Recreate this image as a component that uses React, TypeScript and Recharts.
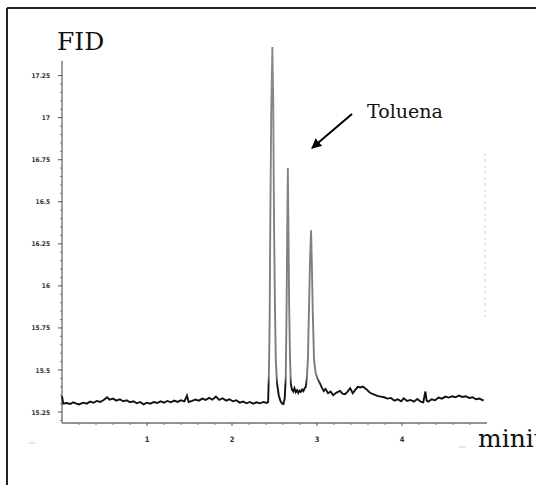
import { Line, LineChart, ReferenceLine, XAxis, YAxis } from "recharts";

// retention time (min)
const times = [
  0.0, 0.015, 0.05, 0.1, 0.13, 0.17, 0.2, 0.25, 0.29, 0.33, 0.37, 0.41, 0.45, 0.49, 0.53, 0.56, 0.6, 0.64,
  0.68, 0.72, 0.76, 0.8, 0.84, 0.88, 0.92, 0.96, 1.0, 1.04, 1.08, 1.12, 1.16, 1.2, 1.24, 1.28, 1.32, 1.36,
  1.4, 1.44, 1.47, 1.49, 1.53, 1.57, 1.61, 1.65, 1.69, 1.73, 1.77, 1.81, 1.85, 1.89, 1.93, 1.97, 2.01, 2.05,
  2.09, 2.13, 2.17, 2.21, 2.25, 2.29, 2.33, 2.37, 2.41,
  2.425, 2.435, 2.443, 2.45, 2.462, 2.475, 2.485, 2.495, 2.505, 2.515, 2.53, 2.55, 2.57, 2.59, 2.605, 2.62,
  2.632, 2.642, 2.65, 2.657, 2.664, 2.672, 2.682, 2.692, 2.705, 2.72, 2.735, 2.75, 2.765, 2.78, 2.795, 2.81,
  2.825, 2.84, 2.855, 2.868,
  2.88, 2.893, 2.905, 2.918, 2.93, 2.94, 2.95, 2.965, 2.985, 3.005, 3.035, 3.06, 3.08, 3.1, 3.13, 3.16, 3.19,
  3.23, 3.27, 3.3, 3.33, 3.36, 3.39, 3.42, 3.45, 3.48, 3.51, 3.54, 3.58, 3.62, 3.66, 3.71, 3.75, 3.79, 3.83,
  3.87, 3.91, 3.95, 3.99, 4.02, 4.06, 4.1, 4.14, 4.18, 4.22, 4.25, 4.275, 4.29, 4.31, 4.35, 4.39, 4.43, 4.47,
  4.51, 4.55, 4.59, 4.63, 4.67, 4.71, 4.75, 4.79, 4.83, 4.87, 4.91, 4.96,
];

// detector response
const fid = [
  15.345, 15.3, 15.304, 15.298, 15.308, 15.3, 15.295, 15.306, 15.3, 15.312, 15.305, 15.316, 15.31, 15.322,
  15.338, 15.324, 15.33, 15.318, 15.326, 15.314, 15.32, 15.308, 15.314, 15.302, 15.31, 15.296, 15.306, 15.3,
  15.31, 15.304, 15.314, 15.306, 15.316, 15.308, 15.318, 15.31, 15.32, 15.314, 15.348, 15.31, 15.316, 15.324,
  15.318, 15.33, 15.322, 15.334, 15.324, 15.342, 15.322, 15.332, 15.318, 15.326, 15.314, 15.32, 15.306,
  15.312, 15.302, 15.31, 15.3, 15.308, 15.302, 15.31, 15.304,
  15.31, 15.5, 15.8, 16.35, 17.05, 17.42, 17.1, 16.35, 15.9, 15.56, 15.42, 15.35, 15.315, 15.3, 15.298, 15.33,
  15.45, 15.85, 16.35, 16.7, 16.35, 15.9, 15.58, 15.42, 15.385, 15.372, 15.392, 15.368, 15.38, 15.364, 15.378,
  15.37, 15.384, 15.374, 15.392, 15.4,
  15.45, 15.56, 15.85, 16.15, 16.33, 16.12, 15.85, 15.56, 15.48, 15.45, 15.42, 15.392, 15.375, 15.388, 15.362,
  15.372, 15.35, 15.366, 15.376, 15.36, 15.356, 15.372, 15.392, 15.362, 15.382, 15.4, 15.396, 15.402, 15.386,
  15.366, 15.356, 15.346, 15.342, 15.338, 15.33, 15.334, 15.318, 15.326, 15.314, 15.332, 15.316, 15.322,
  15.312, 15.328, 15.312, 15.308, 15.372, 15.318, 15.312, 15.326, 15.32, 15.336, 15.33, 15.342, 15.336,
  15.344, 15.338, 15.348, 15.34, 15.344, 15.334, 15.338, 15.326, 15.33, 15.318,
];

const yMajorTicks = [15.25, 15.5, 15.75, 16, 16.25, 16.5, 16.75, 17, 17.25];
const yTickLabels = ["15.25", "15.5", "15.75", "16", "16.25", "16.5", "16.75", "17", "17.25"];
const xMajorTicks = [1, 2, 3, 4];
const xTickLabels = ["1", "2", "3", "4"];

const Y_MIN = 15.185;
const Y_MAX = 17.42;
const Y_AXIS_TOP = 17.339;

const data = times.map((t, i) => ({ t, fid: fid[i] }));

// minor ticks every 0.05 on y and 0.2 on x
const yMinor: number[] = [];
for (let v = 15.2; v <= 17.3; v += 0.05) yMinor.push(Math.round(v * 100) / 100);
const xMinor: number[] = [];
for (let v = 0.2; v < 5; v += 0.2) xMinor.push(Math.round(v * 10) / 10);

const tickFont = "'Liberation Sans Narrow', 'DejaVu Sans Condensed', Arial, sans-serif";
const serif = "'DejaVu Serif', serif";

function YTick(props: any) {
  const { x, y, payload } = props;
  const i = yMajorTicks.findIndex((m) => Math.abs(m - payload.value) < 1e-6);
  if (i < 0) return <line x1={x - 2} x2={x} y1={y} y2={y} stroke="#777" strokeWidth={1} />;
  return (
    <g>
      <line x1={x - 4} x2={x} y1={y} y2={y} stroke="#555" strokeWidth={1} />
      <text x={x - 12} y={y + 2.5} textAnchor="end" fontSize={6.5} fontWeight="bold" fill="#333" fontFamily={tickFont}>
        {yTickLabels[i]}
      </text>
    </g>
  );
}

function XTick(props: any) {
  const { x, y, payload } = props;
  const i = xMajorTicks.findIndex((m) => Math.abs(m - payload.value) < 1e-6);
  if (i < 0) return <line x1={x} x2={x} y1={y} y2={y + 2} stroke="#777" strokeWidth={1} />;
  return (
    <g>
      <line x1={x} x2={x} y1={y} y2={y + 3} stroke="#555" strokeWidth={1} />
      <text x={x} y={y + 19} textAnchor="middle" fontSize={7.5} fontWeight="bold" fill="#333" fontFamily={tickFont}>
        {xTickLabels[i]}
      </text>
    </g>
  );
}

export default function App() {
  return (
    <div style={{ position: "absolute", left: 0, top: 0, width: 536, height: 485, background: "#fff" }}>
      <LineChart width={536} height={485} data={data} margin={{ top: 47, right: 49, bottom: 0, left: 0 }}>
        <defs>
          <linearGradient id="trace" gradientUnits="userSpaceOnUse" x1="0" y1="0" x2="0" y2="485">
            <stop offset="0" stopColor="#8c8c8c" />
            <stop offset="0.775" stopColor="#7a7a7a" />
            <stop offset="0.795" stopColor="#111" />
            <stop offset="1" stopColor="#111" />
          </linearGradient>
        </defs>
        <XAxis
          dataKey="t"
          type="number"
          domain={[0, 5]}
          ticks={xMinor}
          interval={0}
          height={62}
          tickSize={0}
          tickMargin={0}
          tick={<XTick />}
          axisLine={{ stroke: "#707070", strokeWidth: 1.5 }}
          tickLine={false}
        />
        <YAxis
          type="number"
          domain={[Y_MIN, Y_MAX]}
          allowDataOverflow
          ticks={yMinor}
          interval={0}
          width={62}
          tickSize={0}
          tickMargin={0}
          tick={<YTick />}
          axisLine={false}
          tickLine={false}
        />
        <ReferenceLine
          segment={[
            { x: 0, y: Y_MIN },
            { x: 0, y: Y_AXIS_TOP },
          ]}
          stroke="#6a6a6a"
          strokeWidth={1.3}
          ifOverflow="visible"
        />
        <Line
          type="linear"
          dataKey="fid"
          stroke="url(#trace)"
          strokeWidth={1.9}
          dot={false}
          isAnimationActive={false}
        />
      </LineChart>
      <svg
        width={536}
        height={485}
        style={{ position: "absolute", left: 0, top: 0, pointerEvents: "none" }}
      >
        <defs>
          <marker id="head" markerWidth="10" markerHeight="10" refX="9" refY="5" orient="auto" markerUnits="userSpaceOnUse">
            <path d="M0,0 L10,5 L0,10 z" fill="#000" />
          </marker>
        </defs>
        {/* frame */}
        <line x1={7} y1={8} x2={536} y2={8} stroke="#222" strokeWidth={2} />
        <line x1={7} y1={8} x2={7} y2={485} stroke="#222" strokeWidth={2} />
        <text x={57} y={50} fontSize={25} fontFamily={serif} fill="#111">FID</text>
        <text x={478} y={447} fontSize={25} fontFamily={serif} fill="#111">minit</text>
        <text x={367} y={118} fontSize={19} fontFamily={serif} fill="#111">Toluena</text>
        <line x1={352} y1={114} x2={312} y2={148} stroke="#000" strokeWidth={2} markerEnd="url(#head)" />
        {/* faint scan marks */}
        <line x1={485} y1={153} x2={485} y2={317} stroke="#d4d4d4" strokeWidth={1} strokeDasharray="3 3" />
        <line x1={29} y1={443} x2={35} y2={443} stroke="#c8c8c8" strokeWidth={1} />
        <line x1={459} y1={447} x2={466} y2={447} stroke="#d0d0d0" strokeWidth={1} />
      </svg>
    </div>
  );
}
